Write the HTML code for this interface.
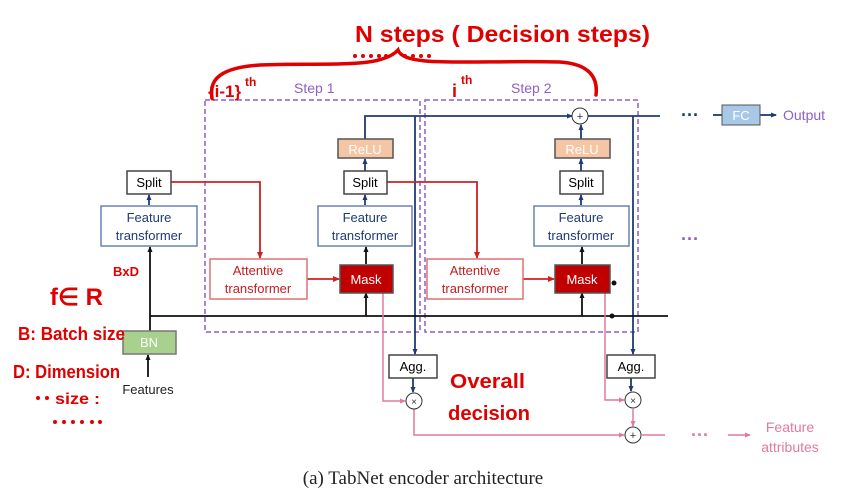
<!DOCTYPE html>
<html><head><meta charset="utf-8"><style>
html,body{margin:0;padding:0;background:#fff;width:846px;height:504px;overflow:hidden}
svg{display:block}
.t{font-family:"Liberation Sans",sans-serif}
.h{font-family:"Liberation Sans",sans-serif;font-weight:bold;fill:#e00000}
</style></head><body>
<svg width="846" height="504" viewBox="0 0 846 504" xmlns="http://www.w3.org/2000/svg">
<defs>
<marker id="ab" markerUnits="userSpaceOnUse" markerWidth="6" markerHeight="6" refX="5" refY="3" orient="auto"><path d="M0,0.5 L6,3 L0,5.5z" fill="#1f3b73"/></marker>
<marker id="ak" markerUnits="userSpaceOnUse" markerWidth="6" markerHeight="6" refX="5" refY="3" orient="auto"><path d="M0,0.5 L6,3 L0,5.5z" fill="#111"/></marker>
<marker id="ar" markerUnits="userSpaceOnUse" markerWidth="7" markerHeight="7" refX="6" refY="3.5" orient="auto"><path d="M0,0.5 L7,3.5 L0,6.5z" fill="#d02020"/></marker>
<marker id="ap" markerUnits="userSpaceOnUse" markerWidth="6" markerHeight="6" refX="5" refY="3" orient="auto"><path d="M0,0.5 L6,3 L0,5.5z" fill="#e07aa0"/></marker>
</defs>
<g class="t">
<rect x="205" y="100" width="215" height="232" fill="none" stroke="#8e5fc8" stroke-width="1.5" stroke-dasharray="5,3"/>
<rect x="425" y="100" width="213" height="232" fill="none" stroke="#8e5fc8" stroke-width="1.5" stroke-dasharray="5,3"/>
<text x="294" y="93" font-size="14" fill="#8e5fc8">Step 1</text>
<text x="511" y="93" font-size="14" fill="#8e5fc8">Step 2</text>

<g stroke="#1f3b73" stroke-width="1.8" fill="none">
<path d="M365,139 V116 H572" marker-end="url(#ab)"/>
<path d="M588,116 H660"/>
<path d="M415,116 V354" marker-end="url(#ab)"/>
<path d="M633,116 V354" marker-end="url(#ab)"/>
<path d="M413,378 V392" marker-end="url(#ab)"/>
<path d="M631,378 V391" marker-end="url(#ab)"/>
<path d="M365,171 V159" marker-end="url(#ab)"/>
<path d="M365,205 V195" marker-end="url(#ab)"/>
<path d="M581,139 V125" marker-end="url(#ab)"/>
<path d="M581,171 V159" marker-end="url(#ab)"/>
<path d="M581,205 V195" marker-end="url(#ab)"/>
<path d="M149,205 V195" marker-end="url(#ab)"/>
<path d="M713,115 H722"/>
<path d="M760,115 H776" marker-end="url(#ab)"/>
</g>
<circle cx="580" cy="116" r="8" fill="#fff" stroke="#333"/>
<text x="580" y="120" font-size="11" text-anchor="middle" fill="#333">+</text>
<text x="690" y="121" font-size="18" text-anchor="middle" fill="#1f3b73" font-weight="bold">···</text>
<rect x="722" y="105" width="38" height="20" fill="#a8c8e8" stroke="#555"/>
<text x="741" y="120" font-size="13" text-anchor="middle" fill="#fff">FC</text>
<text x="783" y="120" font-size="14" fill="#8e5fc8">Output</text>
<text x="690" y="245" font-size="18" text-anchor="middle" fill="#8e5fc8" font-weight="bold">···</text>

<g stroke="#111" stroke-width="1.8" fill="none">
<path d="M150,316 H668"/>
<path d="M150,331 V247" marker-end="url(#ak)"/>
<path d="M148,377 V355" marker-end="url(#ak)"/>
<path d="M366,316 V293" marker-end="url(#ak)"/>
<path d="M582,316 V293" marker-end="url(#ak)"/>
<path d="M366,264 V247" marker-end="url(#ak)"/>
<path d="M582,264 V247" marker-end="url(#ak)"/>
</g>
<circle cx="612" cy="316" r="2.5" fill="#111"/>
<circle cx="614" cy="283" r="2.5" fill="#111"/>

<g stroke="#d02020" stroke-width="1.8" fill="none">
<path d="M171,182 H260 V258" marker-end="url(#ar)"/>
<path d="M387,182 H477 V258" marker-end="url(#ar)"/>
<path d="M307,279 H339" marker-end="url(#ar)"/>
<path d="M523,279 H554" marker-end="url(#ar)"/>
</g>

<g stroke="#e07aa0" stroke-width="1.5" fill="none">
<path d="M383,292 V401 H405" marker-end="url(#ap)"/>
<path d="M605,292 V400 H624" marker-end="url(#ap)"/>
<path d="M414,409 V435 H624" marker-end="url(#ap)"/>
<path d="M633,409 V426" marker-end="url(#ap)"/>
<path d="M642,435 H665"/>
<path d="M728,435 H750" marker-end="url(#ap)"/>
</g>
<text x="700" y="441" font-size="18" text-anchor="middle" fill="#e07aa0" font-weight="bold">···</text>
<text x="790" y="432" font-size="14" text-anchor="middle" fill="#e07aa0">Feature</text>
<text x="790" y="452" font-size="14" text-anchor="middle" fill="#e07aa0">attributes</text>
<circle cx="414" cy="401" r="8" fill="#fff" stroke="#333"/>
<text x="414" y="405" font-size="10" text-anchor="middle" fill="#333">×</text>
<circle cx="633" cy="400" r="8" fill="#fff" stroke="#333"/>
<text x="633" y="404" font-size="10" text-anchor="middle" fill="#333">×</text>
<circle cx="633" cy="435" r="8" fill="#fff" stroke="#333"/>
<text x="633" y="439" font-size="11" text-anchor="middle" fill="#333">+</text>

<rect x="338" y="139" width="55" height="19" fill="#f5c6a5" stroke="#555" stroke-width="1.5"/>
<text x="365" y="154" font-size="13" text-anchor="middle" fill="#fff">ReLU</text>
<rect x="555" y="139" width="55" height="19" fill="#f5c6a5" stroke="#555" stroke-width="1.5"/>
<text x="582" y="154" font-size="13" text-anchor="middle" fill="#fff">ReLU</text>

<g stroke-width="1.5">
<rect x="127" y="171" width="44" height="23" fill="#fff" stroke="#444"/>
<rect x="344" y="171" width="43" height="23" fill="#fff" stroke="#444"/>
<rect x="560" y="171" width="43" height="23" fill="#fff" stroke="#444"/>
</g>
<text x="149" y="187" font-size="13" text-anchor="middle">Split</text>
<text x="365" y="187" font-size="13" text-anchor="middle">Split</text>
<text x="581" y="187" font-size="13" text-anchor="middle">Split</text>

<g fill="#1f3b73" font-size="13" text-anchor="middle">
<rect x="101" y="206" width="96" height="40" fill="#fff" stroke="#6a82b0" stroke-width="1.5"/>
<text x="149" y="222">Feature</text><text x="149" y="240">transformer</text>
<rect x="318" y="206" width="94" height="40" fill="#fff" stroke="#6a82b0" stroke-width="1.5"/>
<text x="365" y="222">Feature</text><text x="365" y="240">transformer</text>
<rect x="534" y="206" width="95" height="40" fill="#fff" stroke="#6a82b0" stroke-width="1.5"/>
<text x="581" y="222">Feature</text><text x="581" y="240">transformer</text>
</g>
<g fill="#c02020" font-size="13" text-anchor="middle">
<rect x="210" y="259" width="97" height="40" fill="#fff" stroke="#e07070" stroke-width="1.5"/>
<text x="258" y="275">Attentive</text><text x="258" y="293">transformer</text>
<rect x="427" y="259" width="96" height="40" fill="#fff" stroke="#e07070" stroke-width="1.5"/>
<text x="475" y="275">Attentive</text><text x="475" y="293">transformer</text>
</g>
<rect x="340" y="265" width="53" height="28" fill="#c00000" stroke="#555" stroke-width="1.5"/>
<text x="366" y="284" font-size="13" text-anchor="middle" fill="#fff">Mask</text>
<rect x="555" y="265" width="55" height="28" fill="#c00000" stroke="#555" stroke-width="1.5"/>
<text x="582" y="284" font-size="13" text-anchor="middle" fill="#fff">Mask</text>

<rect x="123" y="331" width="53" height="23" fill="#a9d18e" stroke="#777" stroke-width="1.5"/>
<text x="149" y="347" font-size="13" text-anchor="middle" fill="#fff">BN</text>
<text x="148" y="394" font-size="13" text-anchor="middle" fill="#222">Features</text>

<rect x="389" y="355" width="48" height="23" fill="#fff" stroke="#444" stroke-width="1.5"/>
<text x="413" y="371" font-size="13" text-anchor="middle">Agg.</text>
<rect x="607" y="355" width="48" height="23" fill="#fff" stroke="#444" stroke-width="1.5"/>
<text x="631" y="371" font-size="13" text-anchor="middle">Agg.</text>

<text x="423" y="484" font-family="Liberation Serif,serif" font-size="19" text-anchor="middle" fill="#222">(a) TabNet encoder architecture</text>
</g>

<g stroke="#e00000" stroke-width="3.5" fill="none" stroke-linecap="round">
<path d="M212,98 C210,85 212,68 260,65 C320,62 380,70 398,50 C404,68 470,60 560,62 C590,64 598,78 596,95"/>
</g>
<g fill="#e00000">
<circle cx="355" cy="56" r="2"/><circle cx="363" cy="56" r="2"/><circle cx="371" cy="56" r="2"/><circle cx="379" cy="56" r="2"/><circle cx="386" cy="56" r="2"/>
<circle cx="405" cy="56" r="2"/><circle cx="413" cy="56" r="2"/><circle cx="421" cy="56" r="2"/><circle cx="429" cy="56" r="2"/>
<circle cx="55" cy="422" r="2"/><circle cx="64" cy="422" r="2"/><circle cx="73" cy="422" r="2"/><circle cx="82" cy="422" r="2"/><circle cx="92" cy="422" r="2"/><circle cx="100" cy="422" r="2"/>
<circle cx="38" cy="398" r="2"/><circle cx="47" cy="398" r="2"/>
</g>
<text class="h" x="355" y="42" font-size="23" textLength="295" lengthAdjust="spacingAndGlyphs">N steps ( Decision steps)</text>
<text class="h" x="208" y="97" font-size="17">{i-1}</text>
<text class="h" x="245" y="86" font-size="12">th</text>
<text class="h" x="452" y="97" font-size="18">i</text>
<text class="h" x="461" y="84" font-size="12">th</text>
<text class="h" x="50" y="305" font-size="24">f∈ R</text>
<text class="h" x="113" y="276" font-size="13">BxD</text>
<text class="h" x="18" y="340" font-size="18" textLength="107" lengthAdjust="spacingAndGlyphs">B: Batch size</text>
<text class="h" x="13" y="378" font-size="18" textLength="107" lengthAdjust="spacingAndGlyphs">D: Dimension</text>
<text class="h" x="55" y="404" font-size="16" textLength="45" lengthAdjust="spacingAndGlyphs">size :</text>
<text class="h" x="450" y="388" font-size="20" textLength="75" lengthAdjust="spacingAndGlyphs">Overall</text>
<text class="h" x="448" y="420" font-size="20" textLength="82" lengthAdjust="spacingAndGlyphs">decision</text>
</svg>
</body></html>
